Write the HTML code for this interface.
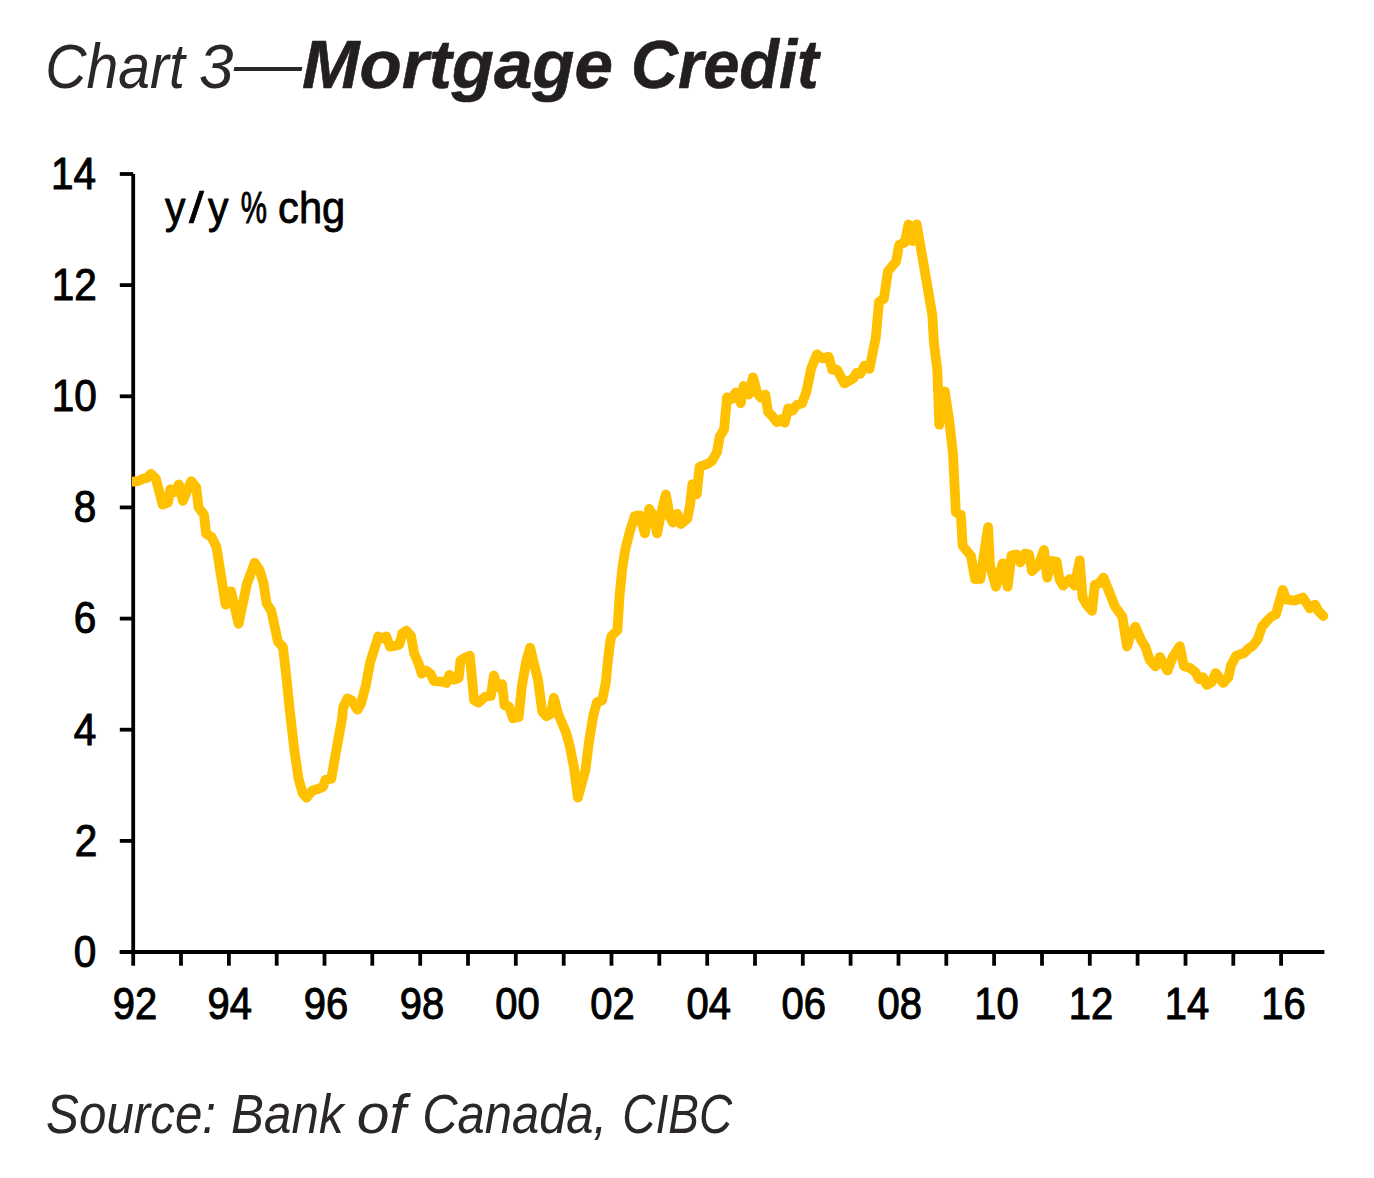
<!DOCTYPE html>
<html><head><meta charset="utf-8"><title>Chart 3 — Mortgage Credit</title><style>
html,body{margin:0;padding:0;background:#fff;}
body{width:1374px;height:1178px;overflow:hidden;position:relative;}
svg{position:absolute;left:0;top:0;}
</style></head><body>
<svg width="1374" height="1178" viewBox="0 0 1374 1178">
<defs><clipPath id="pc"><rect x="131.9" y="100" width="1240" height="900"/></clipPath></defs>
<text transform="matrix(0.9521 0 0 1.0465 45.14 88.00)" x="0" y="0" font-family="'Liberation Sans', sans-serif" font-size="60" font-style="italic" fill="#2b2728">Chart</text>
<text transform="matrix(1.0323 0 0 1.0465 198.94 88.00)" x="0" y="0" font-family="'Liberation Sans', sans-serif" font-size="60" font-style="italic" fill="#2b2728">3</text>
<text transform="matrix(1.1333 0 0 1.0000 234.00 84.00)" x="0" y="0" font-family="'Liberation Sans', sans-serif" font-size="60" font-style="italic" fill="#2b2728">—</text>
<text transform="matrix(1.0476 0 0 1.0417 301.95 88.00)" x="0" y="0" font-family="'Liberation Sans', sans-serif" font-size="66" font-style="italic" font-weight="bold" fill="#231f20" stroke="#231f20" stroke-width="0.574" stroke-linejoin="round">Mortgage</text>
<text transform="matrix(0.9842 0 0 1.0417 631.05 88.00)" x="0" y="0" font-family="'Liberation Sans', sans-serif" font-size="66" font-style="italic" font-weight="bold" fill="#231f20" stroke="#231f20" stroke-width="0.592" stroke-linejoin="round">Credit</text>
<text transform="matrix(0.9486 0 0 1.0833 46.10 1133.00)" x="0" y="0" font-family="'Liberation Sans', sans-serif" font-size="52" font-style="italic" fill="#2b2728">Source:</text>
<text transform="matrix(0.9492 0 0 1.0833 231.10 1133.00)" x="0" y="0" font-family="'Liberation Sans', sans-serif" font-size="52" font-style="italic" fill="#2b2728">Bank</text>
<text transform="matrix(1.1304 0 0 1.0833 356.74 1133.00)" x="0" y="0" font-family="'Liberation Sans', sans-serif" font-size="52" font-style="italic" fill="#2b2728">of</text>
<text transform="matrix(0.9412 0 0 1.0833 422.18 1133.00)" x="0" y="0" font-family="'Liberation Sans', sans-serif" font-size="52" font-style="italic" fill="#2b2728">Canada,</text>
<text transform="matrix(0.8843 0 0 1.0833 622.35 1133.00)" x="0" y="0" font-family="'Liberation Sans', sans-serif" font-size="52" font-style="italic" fill="#2b2728">CIBC</text>
<g stroke="#000" stroke-width="3.8" fill="none">
<line x1="133.2" y1="174" x2="133.2" y2="954"/>
<line x1="119.8" y1="952" x2="1324.4" y2="952"/>
<line x1="119.8" y1="952.0" x2="133.2" y2="952.0"/><line x1="119.8" y1="840.9" x2="133.2" y2="840.9"/><line x1="119.8" y1="729.7" x2="133.2" y2="729.7"/><line x1="119.8" y1="618.6" x2="133.2" y2="618.6"/><line x1="119.8" y1="507.4" x2="133.2" y2="507.4"/><line x1="119.8" y1="396.3" x2="133.2" y2="396.3"/><line x1="119.8" y1="285.1" x2="133.2" y2="285.1"/><line x1="119.8" y1="174.0" x2="133.2" y2="174.0"/><line x1="133.2" y1="952" x2="133.2" y2="965.7"/><line x1="181.0" y1="952" x2="181.0" y2="965.7"/><line x1="228.9" y1="952" x2="228.9" y2="965.7"/><line x1="276.7" y1="952" x2="276.7" y2="965.7"/><line x1="324.5" y1="952" x2="324.5" y2="965.7"/><line x1="372.3" y1="952" x2="372.3" y2="965.7"/><line x1="420.2" y1="952" x2="420.2" y2="965.7"/><line x1="468.0" y1="952" x2="468.0" y2="965.7"/><line x1="515.8" y1="952" x2="515.8" y2="965.7"/><line x1="563.7" y1="952" x2="563.7" y2="965.7"/><line x1="611.5" y1="952" x2="611.5" y2="965.7"/><line x1="659.3" y1="952" x2="659.3" y2="965.7"/><line x1="707.2" y1="952" x2="707.2" y2="965.7"/><line x1="755.0" y1="952" x2="755.0" y2="965.7"/><line x1="802.8" y1="952" x2="802.8" y2="965.7"/><line x1="850.6" y1="952" x2="850.6" y2="965.7"/><line x1="898.5" y1="952" x2="898.5" y2="965.7"/><line x1="946.3" y1="952" x2="946.3" y2="965.7"/><line x1="994.1" y1="952" x2="994.1" y2="965.7"/><line x1="1042.0" y1="952" x2="1042.0" y2="965.7"/><line x1="1089.8" y1="952" x2="1089.8" y2="965.7"/><line x1="1137.6" y1="952" x2="1137.6" y2="965.7"/><line x1="1185.5" y1="952" x2="1185.5" y2="965.7"/><line x1="1233.3" y1="952" x2="1233.3" y2="965.7"/><line x1="1281.1" y1="952" x2="1281.1" y2="965.7"/>
</g>
<text transform="matrix(0.9524 0 0 1.0250 165.00 222.78)" x="0" y="0" font-family="'Liberation Sans', sans-serif" font-size="43" fill="#000" stroke="#000" stroke-width="0.809" stroke-linejoin="round">y</text>
<text transform="matrix(1.2500 0 0 1.0250 189.00 222.78)" x="0" y="0" font-family="'Liberation Sans', sans-serif" font-size="43" fill="#000" stroke="#000" stroke-width="0.703" stroke-linejoin="round">/</text>
<text transform="matrix(0.9524 0 0 1.0250 208.00 222.78)" x="0" y="0" font-family="'Liberation Sans', sans-serif" font-size="43" fill="#000" stroke="#000" stroke-width="0.809" stroke-linejoin="round">y</text>
<text transform="matrix(0.6857 0 0 1.0250 240.63 222.78)" x="0" y="0" font-family="'Liberation Sans', sans-serif" font-size="43" fill="#000" stroke="#000" stroke-width="0.935" stroke-linejoin="round">%</text>
<text transform="matrix(0.9692 0 0 1.0250 278.06 222.78)" x="0" y="0" font-family="'Liberation Sans', sans-serif" font-size="43" fill="#000" stroke="#000" stroke-width="0.802" stroke-linejoin="round">chg</text>
<text transform="matrix(0.8810 0 0 0.9812 73.86 966.90)" x="0" y="0" font-family="'Liberation Sans', sans-serif" font-size="46" fill="#000" stroke="#000" stroke-width="1.074" stroke-linejoin="round">0</text><text transform="matrix(0.8810 0 0 0.9812 74.74 855.76)" x="0" y="0" font-family="'Liberation Sans', sans-serif" font-size="46" fill="#000" stroke="#000" stroke-width="1.074" stroke-linejoin="round">2</text><text transform="matrix(0.8810 0 0 0.9812 73.86 744.61)" x="0" y="0" font-family="'Liberation Sans', sans-serif" font-size="46" fill="#000" stroke="#000" stroke-width="1.074" stroke-linejoin="round">4</text><text transform="matrix(0.8810 0 0 0.9812 73.86 633.47)" x="0" y="0" font-family="'Liberation Sans', sans-serif" font-size="46" fill="#000" stroke="#000" stroke-width="1.074" stroke-linejoin="round">6</text><text transform="matrix(0.8810 0 0 0.9812 73.86 522.33)" x="0" y="0" font-family="'Liberation Sans', sans-serif" font-size="46" fill="#000" stroke="#000" stroke-width="1.074" stroke-linejoin="round">8</text><text transform="matrix(0.8810 0 0 0.9812 51.83 411.19)" x="0" y="0" font-family="'Liberation Sans', sans-serif" font-size="46" fill="#000" stroke="#000" stroke-width="1.074" stroke-linejoin="round">10</text><text transform="matrix(0.8810 0 0 0.9812 51.83 300.04)" x="0" y="0" font-family="'Liberation Sans', sans-serif" font-size="46" fill="#000" stroke="#000" stroke-width="1.074" stroke-linejoin="round">12</text><text transform="matrix(0.8810 0 0 0.9813 50.95 188.90)" x="0" y="0" font-family="'Liberation Sans', sans-serif" font-size="46" fill="#000" stroke="#000" stroke-width="1.074" stroke-linejoin="round">14</text><text transform="matrix(0.8698 0 0 0.9688 112.82 1019.40)" x="0" y="0" font-family="'Liberation Sans', sans-serif" font-size="46" fill="#000" stroke="#000" stroke-width="1.088" stroke-linejoin="round">92</text><text transform="matrix(0.8698 0 0 0.9688 207.49 1019.40)" x="0" y="0" font-family="'Liberation Sans', sans-serif" font-size="46" fill="#000" stroke="#000" stroke-width="1.088" stroke-linejoin="round">94</text><text transform="matrix(0.8698 0 0 0.9688 303.72 1019.40)" x="0" y="0" font-family="'Liberation Sans', sans-serif" font-size="46" fill="#000" stroke="#000" stroke-width="1.088" stroke-linejoin="round">96</text><text transform="matrix(0.8698 0 0 0.9688 399.82 1019.40)" x="0" y="0" font-family="'Liberation Sans', sans-serif" font-size="46" fill="#000" stroke="#000" stroke-width="1.088" stroke-linejoin="round">98</text><text transform="matrix(0.8698 0 0 0.9688 495.22 1019.40)" x="0" y="0" font-family="'Liberation Sans', sans-serif" font-size="46" fill="#000" stroke="#000" stroke-width="1.088" stroke-linejoin="round">00</text><text transform="matrix(0.8698 0 0 0.9688 590.32 1019.40)" x="0" y="0" font-family="'Liberation Sans', sans-serif" font-size="46" fill="#000" stroke="#000" stroke-width="1.088" stroke-linejoin="round">02</text><text transform="matrix(0.8698 0 0 0.9688 686.49 1019.40)" x="0" y="0" font-family="'Liberation Sans', sans-serif" font-size="46" fill="#000" stroke="#000" stroke-width="1.088" stroke-linejoin="round">04</text><text transform="matrix(0.8698 0 0 0.9688 781.52 1019.40)" x="0" y="0" font-family="'Liberation Sans', sans-serif" font-size="46" fill="#000" stroke="#000" stroke-width="1.088" stroke-linejoin="round">06</text><text transform="matrix(0.8698 0 0 0.9688 877.42 1019.40)" x="0" y="0" font-family="'Liberation Sans', sans-serif" font-size="46" fill="#000" stroke="#000" stroke-width="1.088" stroke-linejoin="round">08</text><text transform="matrix(0.8698 0 0 0.9688 974.25 1019.40)" x="0" y="0" font-family="'Liberation Sans', sans-serif" font-size="46" fill="#000" stroke="#000" stroke-width="1.088" stroke-linejoin="round">10</text><text transform="matrix(0.8698 0 0 0.9688 1068.85 1019.40)" x="0" y="0" font-family="'Liberation Sans', sans-serif" font-size="46" fill="#000" stroke="#000" stroke-width="1.088" stroke-linejoin="round">12</text><text transform="matrix(0.8698 0 0 0.9688 1164.72 1019.40)" x="0" y="0" font-family="'Liberation Sans', sans-serif" font-size="46" fill="#000" stroke="#000" stroke-width="1.088" stroke-linejoin="round">14</text><text transform="matrix(0.8698 0 0 0.9688 1261.15 1019.40)" x="0" y="0" font-family="'Liberation Sans', sans-serif" font-size="46" fill="#000" stroke="#000" stroke-width="1.088" stroke-linejoin="round">16</text>
<path d="M133.0,481.6 L138.1,481.2 L143.2,478.6 L146.8,478.0 L150.9,473.9 L155.9,478.7 L162.6,504.5 L167.9,502.7 L170.4,489.2 L174.5,492.1 L178.9,484.5 L182.9,500.9 L191.2,481.2 L196.3,487.3 L198.5,507.4 L204.0,514.7 L206.1,533.6 L211.6,537.2 L216.4,546.7 L225.6,604.6 L231.0,591.3 L238.6,623.8 L246.9,584.0 L254.7,562.8 L259.5,570.0 L263.5,583.0 L266.5,603.0 L271.3,611.0 L277.9,641.5 L283.0,647.3 L286.7,680.0 L289.7,709.7 L294.5,751.3 L298.6,779.0 L302.6,793.3 L306.6,797.7 L312.3,790.5 L317.0,789.3 L323.0,787.0 L325.4,779.8 L331.3,778.6 L336.1,751.3 L342.0,719.2 L343.2,707.3 L347.4,698.4 L351.5,700.2 L357.5,709.7 L361.0,703.8 L365.9,685.2 L370.3,661.9 L378.3,636.4 L381.9,638.6 L386.3,636.4 L390.0,646.6 L395.0,645.9 L399.3,644.5 L402.4,633.4 L406.3,630.7 L411.0,635.9 L414.1,653.2 L419.1,665.0 L421.6,673.6 L425.9,670.5 L430.8,674.2 L433.9,681.0 L442.0,681.7 L446.3,682.9 L449.4,674.9 L454.3,679.8 L458.7,678.0 L460.5,660.6 L464.2,658.2 L469.8,655.7 L474.1,700.2 L478.5,702.7 L485.3,696.5 L490.8,695.9 L493.9,675.5 L497.6,687.2 L502.0,684.1 L504.5,705.2 L508.8,706.4 L513.1,718.2 L518.7,716.9 L521.8,686.6 L526.1,661.9 L530.1,647.6 L533.5,661.9 L537.9,679.2 L542.2,711.4 L546.5,716.3 L550.9,713.8 L553.9,697.7 L558.0,713.6 L566.0,732.4 L569.6,745.4 L573.9,767.0 L577.9,797.5 L585.4,770.2 L589.1,741.0 L593.4,715.0 L597.0,702.1 L602.1,700.6 L605.7,683.3 L607.8,661.6 L610.0,642.9 L611.6,635.9 L617.4,630.1 L619.6,595.5 L622.5,566.6 L625.4,549.3 L629.7,532.0 L634.7,516.1 L639.8,515.4 L644.8,533.4 L649.2,508.9 L653.5,516.1 L657.1,533.4 L661.4,511.8 L665.8,494.4 L670.1,517.5 L673.0,522.6 L677.3,513.9 L681.0,524.0 L687.3,518.7 L690.2,504.3 L692.4,484.1 L696.7,494.2 L699.6,466.8 L707.5,463.9 L711.9,461.0 L716.9,452.4 L719.8,436.5 L724.1,429.3 L727.0,397.5 L731.3,399.0 L735.7,392.5 L740.7,403.3 L743.6,386.0 L748.7,394.6 L753.0,377.3 L757.3,393.2 L760.9,397.5 L765.3,394.6 L768.1,412.0 L772.5,416.3 L776.8,422.1 L781.1,419.2 L784.7,422.8 L788.3,408.3 L792.7,410.5 L797.0,404.7 L802.1,403.3 L806.4,391.8 L811.3,368.1 L816.9,354.4 L822.6,358.4 L828.7,356.8 L832.3,369.7 L837.1,369.7 L844.4,383.4 L853.2,378.5 L856.5,372.9 L860.5,373.7 L864.5,365.6 L869.4,368.9 L875.8,337.4 L879.0,301.9 L883.9,298.7 L887.9,271.3 L896.0,261.6 L899.2,244.7 L904.8,242.5 L908.5,224.5 L912.8,241.0 L916.6,224.4 L922.6,258.4 L932.3,314.8 L933.9,342.3 L937.3,370.0 L939.3,424.7 L944.8,391.5 L949.0,418.8 L953.0,454.0 L955.9,512.5 L960.8,514.5 L962.7,545.7 L971.0,556.0 L975.0,579.0 L980.3,578.9 L988.1,527.2 L990.0,565.2 L995.9,586.7 L1002.7,563.3 L1007.6,586.7 L1011.5,555.5 L1016.4,554.5 L1020.3,562.3 L1025.2,553.5 L1029.1,554.5 L1032.0,571.1 L1038.9,564.3 L1044.0,550.0 L1047.2,577.6 L1052.3,561.0 L1056.6,561.8 L1059.5,579.1 L1063.1,585.6 L1069.6,579.1 L1074.6,585.6 L1079.7,560.3 L1082.6,597.8 L1086.9,605.0 L1092.0,610.8 L1094.8,584.8 L1099.2,583.4 L1103.5,577.6 L1109.3,592.1 L1115.0,606.5 L1122.3,616.6 L1127.0,646.5 L1130.9,633.9 L1135.3,626.7 L1141.0,639.7 L1145.4,647.0 L1149.7,659.9 L1155.5,666.4 L1159.8,657.0 L1167.5,670.6 L1172.8,657.0 L1179.8,646.2 L1183.8,666.0 L1190.2,668.2 L1195.3,672.1 L1199.1,679.1 L1202.9,677.2 L1206.7,684.8 L1211.8,682.2 L1215.7,673.0 L1223.3,682.9 L1228.4,677.2 L1230.9,665.7 L1236.2,655.6 L1243.8,653.3 L1248.4,648.7 L1253.0,645.7 L1257.6,639.5 L1262.1,626.5 L1266.7,621.2 L1271.3,616.6 L1275.9,614.3 L1282.8,589.9 L1286.3,599.5 L1294.6,600.7 L1302.9,597.6 L1309.9,608.4 L1315.0,604.6 L1318.8,611.6 L1323.3,616.0" fill="none" stroke="#FFC000" stroke-width="9.8" clip-path="url(#pc)" stroke-linejoin="round" stroke-linecap="round"/>
</svg>
</body></html>
